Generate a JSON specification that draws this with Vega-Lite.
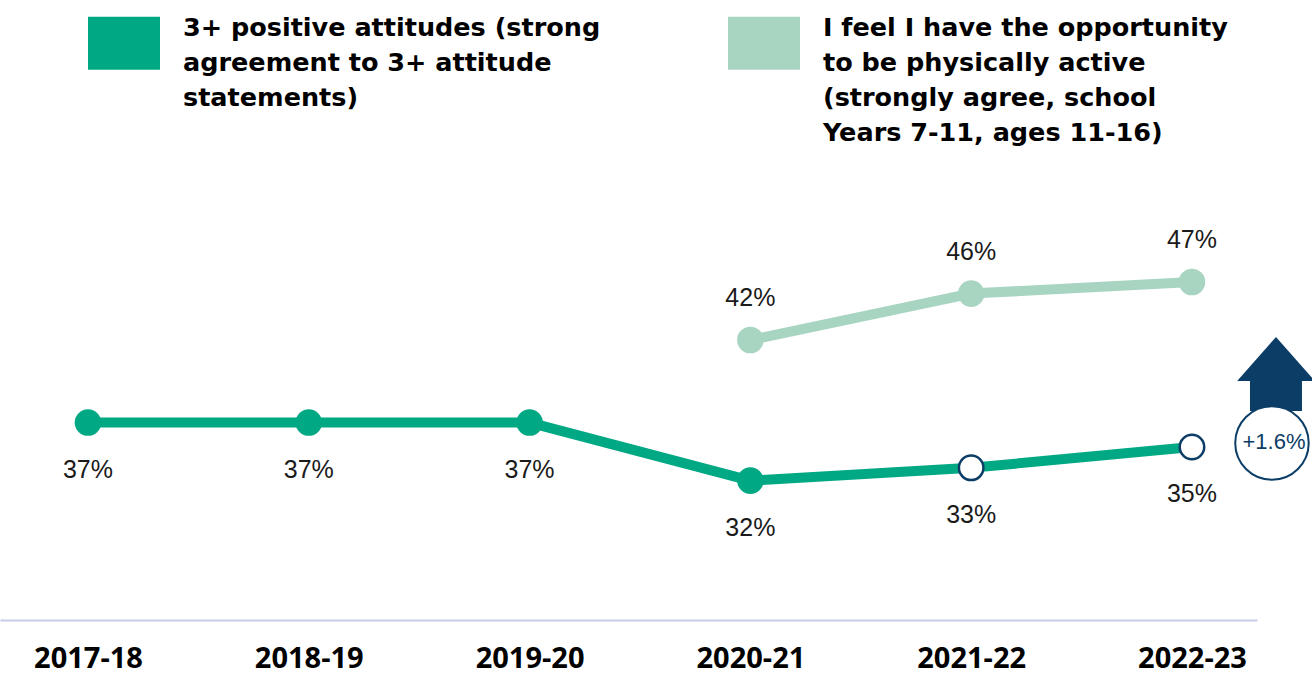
{
  "$schema": "https://vega.github.io/schema/vega-lite/v6.json",
  "width": 1257,
  "height": 620,
  "padding": {"left": 0, "top": 0, "right": 55, "bottom": 55},
  "autosize": {"type": "none"},
  "background": "white",
  "config": {"view": {"stroke": null}},
  "data": {
    "values": [
      {"year": "2017-18", "series": "attitudes", "value": 37, "label": "37%"},
      {"year": "2018-19", "series": "attitudes", "value": 37, "label": "37%"},
      {"year": "2019-20", "series": "attitudes", "value": 37, "label": "37%"},
      {"year": "2020-21", "series": "attitudes", "value": 32, "label": "32%"},
      {"year": "2021-22", "series": "attitudes", "value": 33.1, "label": "33%"},
      {"year": "2022-23", "series": "attitudes", "value": 34.9, "label": "35%", "change": 0.016},
      {"year": "2020-21", "series": "opportunity", "value": 42, "label": "42%"},
      {"year": "2021-22", "series": "opportunity", "value": 46, "label": "46%"},
      {"year": "2022-23", "series": "opportunity", "value": 47, "label": "47%"}
    ]
  },
  "encoding": {
    "x": {
      "field": "year",
      "type": "ordinal",
      "scale": {"type": "point", "domain": ["2017-18", "2018-19", "2019-20", "2020-21", "2021-22", "2022-23"], "padding": 0.3465, "align": 0.575},
      "axis": {
        "title": null,
        "labelAngle": 0,
        "ticks": false,
        "grid": false,
        "domainColor": "#C5CDE8",
        "domainWidth": 2,
        "labelFont": "Open Sans",
        "labelFontSize": 29,
        "labelFontWeight": "bold",
        "labelColor": "#000000",
        "labelPadding": 24
      }
    }
  },
  "layer": [
    {
      "transform": [{"filter": "datum.series == 'attitudes'"}],
      "encoding": {
        "y": {"field": "value", "type": "quantitative", "scale": {"domain": [20, 73.38], "zero": false, "nice": false}, "axis": null}
      },
      "layer": [
        {"mark": {"type": "line", "color": "#00A884", "strokeWidth": 10}},
        {
          "transform": [{"filter": "datum.year != '2021-22' && datum.year != '2022-23'"}],
          "mark": {"type": "point", "shape": "circle", "filled": true, "size": 707, "opacity": 1},
          "encoding": {
            "color": {
              "field": "series",
              "type": "nominal",
              "scale": {"domain": ["attitudes", "opportunity"], "range": ["#00A884", "#A8D5C2"]},
              "legend": {
                "title": null,
                "orient": "none",
                "legendX": 88,
                "legendY": 7,
                "direction": "horizontal",
                "columns": 2,
                "columnPadding": 127,
                "symbolType": "M-1,-0.736L1,-0.736L1,0.736L-1,0.736Z",
                "symbolSize": 5184,
                "symbolStrokeWidth": 0,
                "symbolOpacity": 1,
                "labelFont": "DejaVu Sans",
                "labelFontSize": 25.5,
                "labelFontWeight": "bold",
                "labelColor": "#000000",
                "labelOffset": 23,
                "labelLimit": 800,
                "labelBaseline": "top",
                "labelExpr": "datum.value == 'attitudes' ? ['3+ positive attitudes (strong', 'agreement to 3+ attitude', 'statements)', ''] : ['I feel I have the opportunity', 'to be physically active', '(strongly agree, school', 'Years 7-11, ages 11-16)']",
                "encode": {"labels": {"update": {"lineHeight": {"value": 35}, "dy": {"value": -27}}}}
              }
            }
          }
        },
        {
          "transform": [{"filter": "datum.year == '2021-22' || datum.year == '2022-23'"}],
          "mark": {"type": "point", "shape": "circle", "filled": true, "fill": "#FFFFFF", "stroke": "#0B3D66", "strokeWidth": 2.5, "size": 600, "opacity": 1}
        },
        {
          "mark": {"type": "text", "font": "Liberation Sans", "fontSize": 25, "color": "#1A1A1A", "baseline": "middle", "dy": 47},
          "encoding": {"text": {"field": "label"}}
        },
        {
          "transform": [{"filter": "isValid(datum.change)"}],
          "mark": {"type": "point", "shape": "M0,-0.9L0.97,0.2L0.65,0.2L0.65,0.95L-0.65,0.95L-0.65,0.2L-0.97,0.2Z", "filled": true, "color": "#0B3D66", "opacity": 1, "size": 6400, "xOffset": 84, "yOffset": -74}
        },
        {
          "transform": [{"filter": "isValid(datum.change)"}],
          "mark": {"type": "point", "shape": "circle", "filled": true, "fill": "#FFFFFF", "stroke": "#0B3D66", "strokeWidth": 2, "opacity": 1, "size": 5400, "xOffset": 80, "yOffset": -4}
        },
        {
          "transform": [{"filter": "isValid(datum.change)"}],
          "mark": {"type": "text", "font": "Liberation Sans", "fontSize": 22, "color": "#0B3D66", "baseline": "middle", "align": "center", "dx": 82, "dy": -5},
          "encoding": {"text": {"field": "change", "format": "+.1%"}}
        }
      ]
    },
    {
      "transform": [{"filter": "datum.series == 'opportunity'"}],
      "encoding": {
        "y": {"field": "value", "type": "quantitative", "scale": {"domain": [17.86, 71.31], "zero": false, "nice": false}, "axis": null}
      },
      "layer": [
        {"mark": {"type": "line", "color": "#A8D5C2", "strokeWidth": 10}},
        {
          "mark": {"type": "point", "shape": "circle", "filled": true, "size": 707, "opacity": 1},
          "encoding": {"color": {"field": "series", "type": "nominal"}}
        },
        {
          "mark": {"type": "text", "font": "Liberation Sans", "fontSize": 25, "color": "#1A1A1A", "baseline": "middle", "dy": -42},
          "encoding": {"text": {"field": "label"}}
        }
      ]
    }
  ],
  "resolve": {"scale": {"y": "independent"}}
}
